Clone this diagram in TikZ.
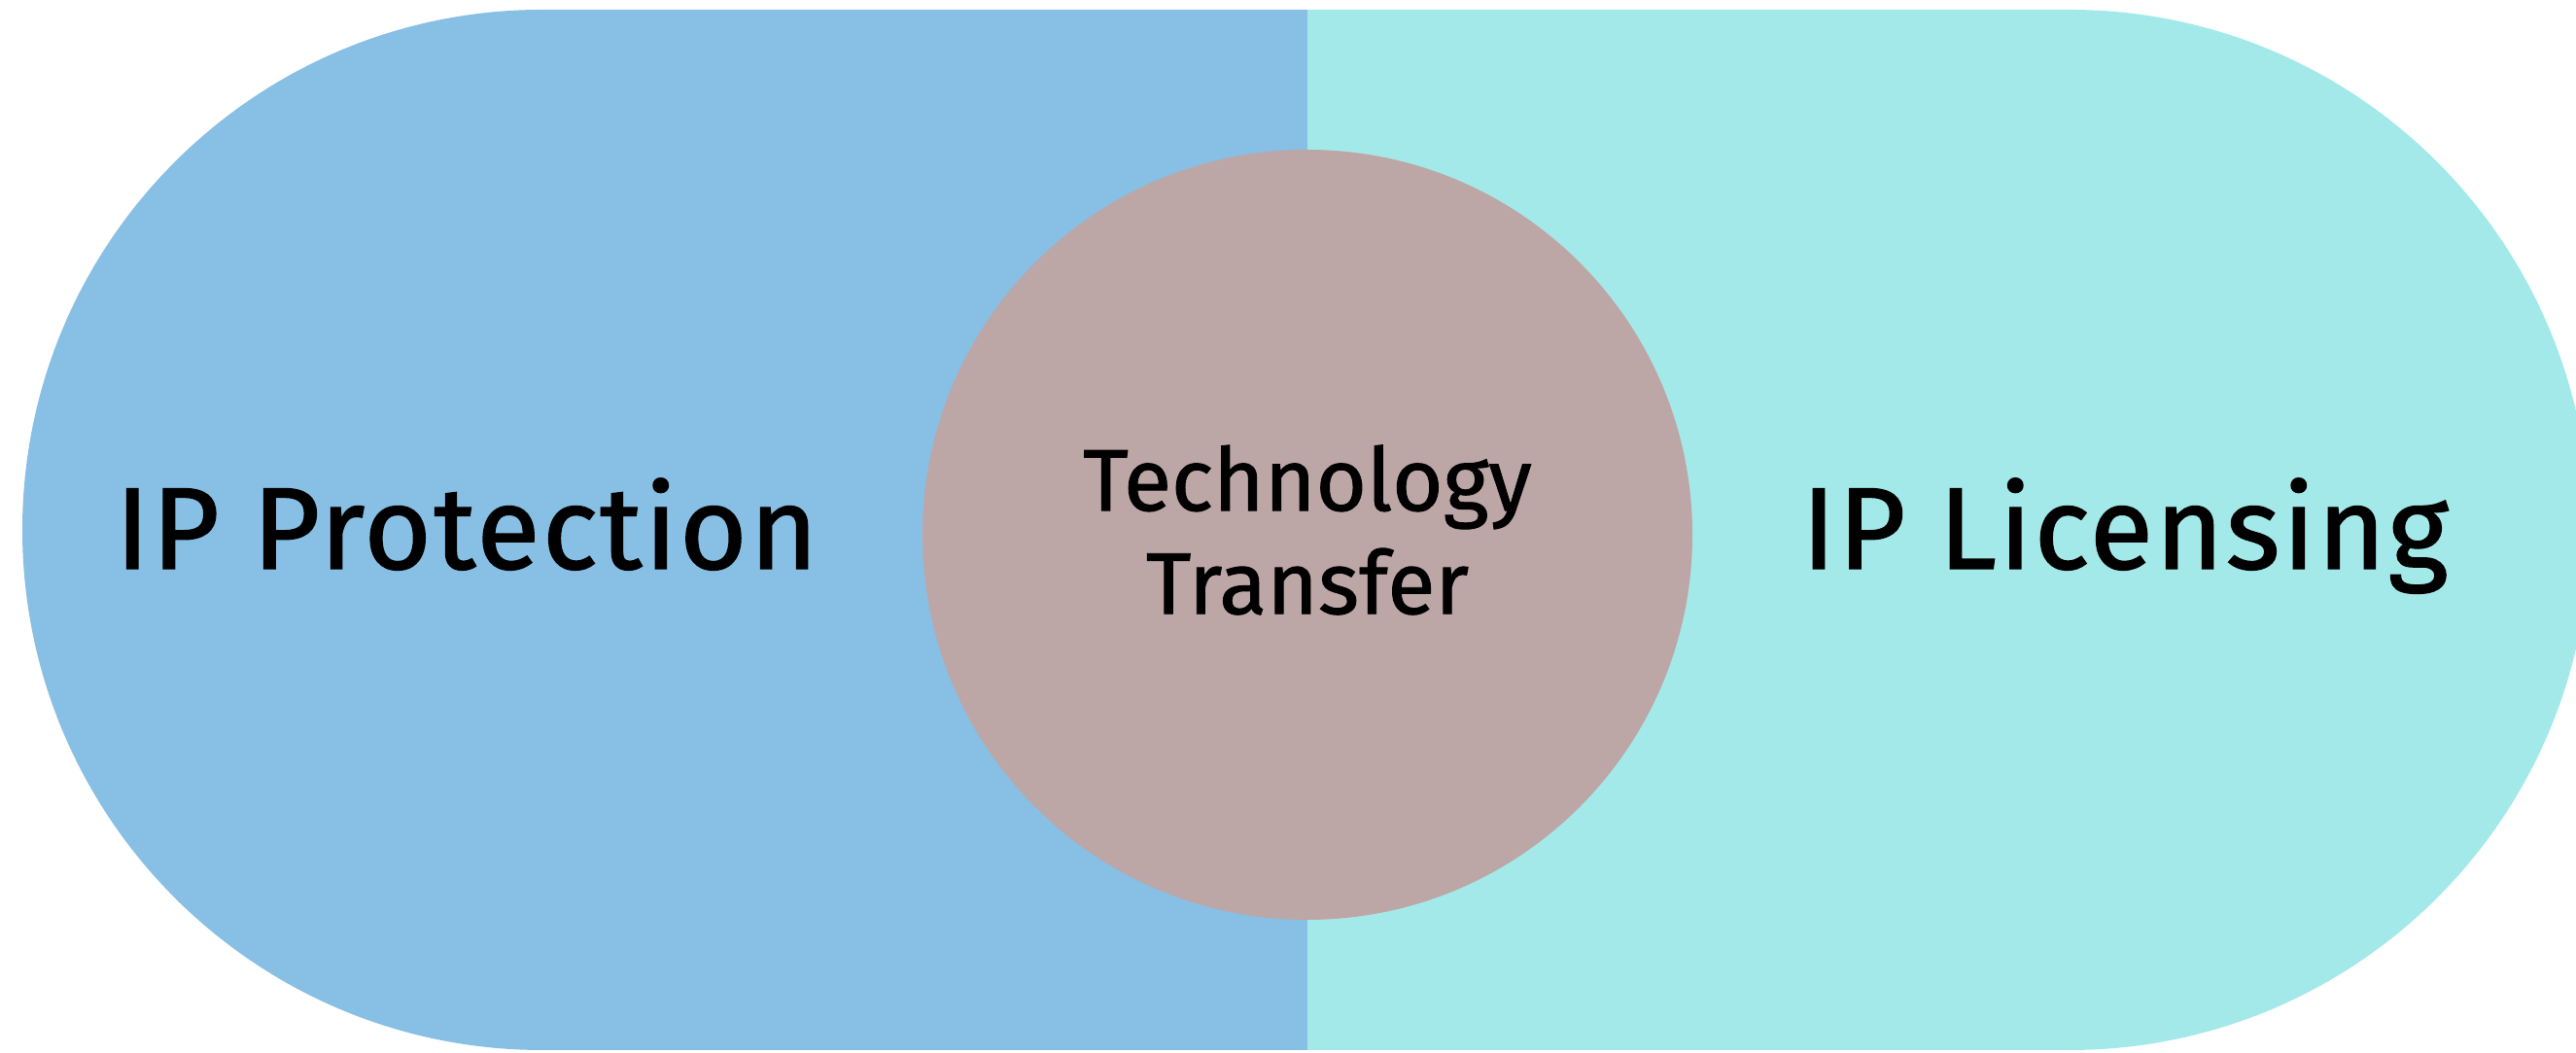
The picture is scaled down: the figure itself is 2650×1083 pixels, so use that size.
\documentclass[tikz,border=0pt]{standalone}
\usepackage{fontspec}
\setmainfont{Fira Sans}
\newfontfamily\sidefont{Fira Sans}[FakeBold=1.2, LetterSpace=2]
\newfontfamily\midfont{Fira Sans}[FakeBold=1]
\definecolor{protblue}{HTML}{88BFE4}
\definecolor{liccyan}{HTML}{A4E9E9}
\definecolor{ttmauve}{HTML}{BDA6A6}
\tikzset{
  sidelabel/.style={anchor=base, font=\sidefont\fontsize{34}{40}\selectfont, text=black},
  midlabel/.style={align=center, font=\midfont\fontsize{25.6}{30.2}\selectfont, text=black}
}
\begin{document}
\begin{tikzpicture}[x=0.01cm, y=0.01cm]
	% Frame
	\useasboundingbox (0,0) rectangle (2650,1083);

	% Halves
	\fill[protblue] (1345,1073) -- (558,1073) arc (90:270:535) -- (1345,3) -- cycle;
	\fill[liccyan] (1345,1073) -- (2129,1073) arc (90:-90:535) -- (1345,3) -- cycle;

	% Middle
	\fill[ttmauve] (1345,533) circle (396);

	% Labels
	\node[sidelabel] (prot) at (480,498) {IP Protection};
	\node[sidelabel] (lic) at (2186,498) {IP Licensing};
	\node[midlabel] (tt) at (1345,538) {Technology\\Transfer};

\end{tikzpicture}
\end{document}
